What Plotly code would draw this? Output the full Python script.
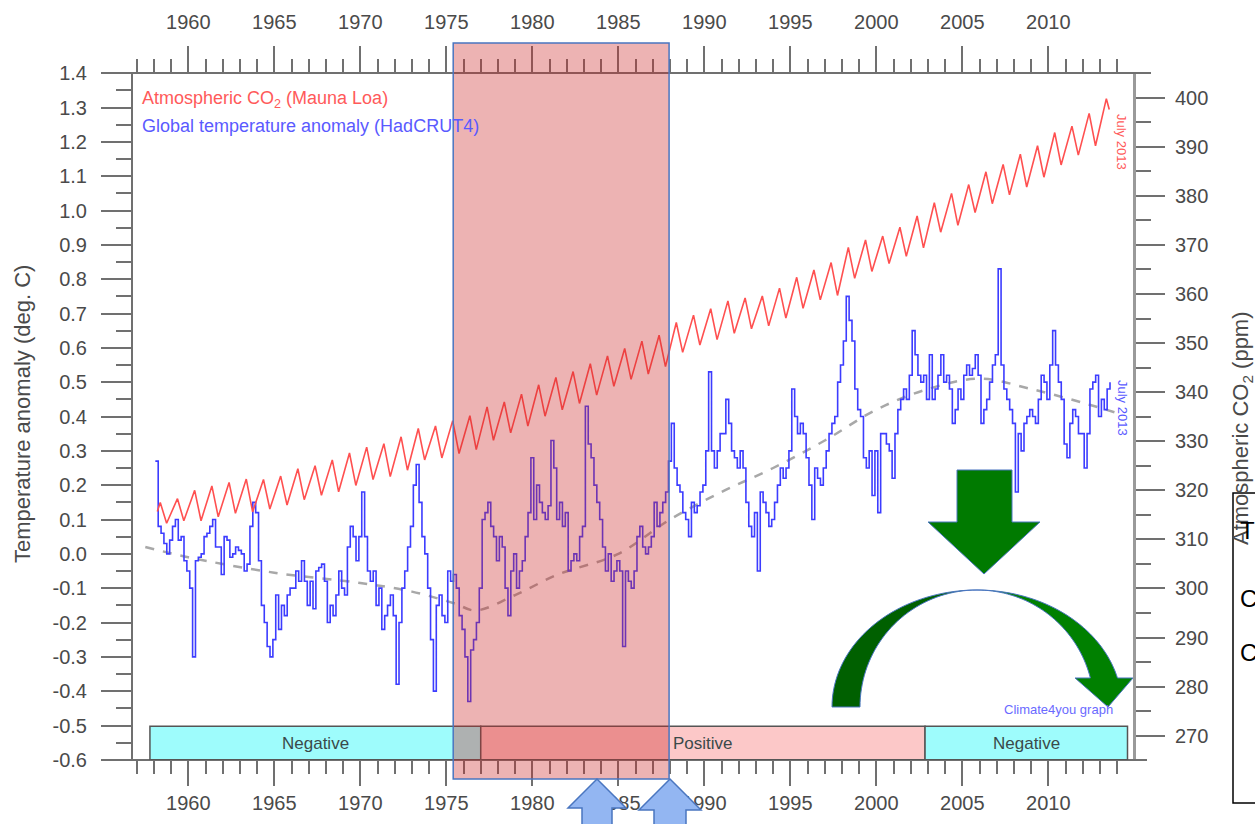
import math
import plotly.graph_objects as go

# ---------------- data ----------------
x_tick_years = [1960, 1965, 1970, 1975, 1980, 1985, 1990, 1995, 2000, 2005, 2010]
left_tick_vals = [-0.6, -0.5, -0.4, -0.3, -0.2, -0.1, 0.0, 0.1, 0.2, 0.3, 0.4,
                  0.5, 0.6, 0.7, 0.8, 0.9, 1.0, 1.1, 1.2, 1.3, 1.4]
left_tick_text = ["-0.6", "-0.5", "-0.4", "-0.3", "-0.2", "-0.1", "0.0", "0.1", "0.2",
                  "0.3", "0.4", "0.5", "0.6", "0.7", "0.8", "0.9", "1.0", "1.1", "1.2",
                  "1.3", "1.4"]
right_tick_vals = [270, 280, 290, 300, 310, 320, 330, 340, 350, 360, 370, 380, 390, 400]

# Mauna Loa CO2: seasonal maxima (May) and minima (Sep/Oct) per year
co2_start_year = 1958.2
co2_start_value = 315.7
co2_first_year = 1958
co2_peak = [317.5, 318.3, 320.0, 320.9, 321.6, 322.3, 322.2, 322.9, 324.4, 325.0,
            326.2, 327.6, 328.8, 329.5, 330.9, 332.6, 333.1, 334.2, 335.2, 337.0,
            338.0, 339.6, 341.5, 343.0, 344.2, 345.8, 347.4, 348.9, 350.4, 351.6,
            354.2, 355.7, 357.0, 358.6, 359.2, 359.6, 361.2, 363.4, 364.9, 366.4,
            369.5, 371.0, 371.8, 373.6, 375.9, 378.6, 380.5, 382.3, 384.9, 386.4,
            388.5, 390.2, 392.9, 394.2, 396.8, 399.8]
co2_trough = [313.3, 313.8, 313.8, 314.6, 315.3, 315.6, 316.2, 317.0, 318.1, 319.0,
              319.7, 321.0, 322.2, 322.8, 324.1, 326.2, 326.6, 327.5, 328.3, 330.2,
              331.7, 333.1, 335.1, 336.4, 337.7, 339.4, 341.2, 342.6, 343.7, 345.2,
              348.1, 349.6, 350.7, 352.0, 352.9, 353.5, 355.1, 357.1, 358.8, 359.7,
              363.2, 364.6, 366.2, 367.7, 369.4, 372.6, 374.0, 376.6, 378.4, 380.2,
              381.8, 383.8, 386.3, 388.3, 390.2]
co2_end_year = 2013.54
co2_end_value = 397.6

# HadCRUT4 global temperature anomaly, bi-monthly values
temp_start_year = 1958.0
temp_per_year = 6
temp = [
    0.27, 0.08, 0.06, 0.03, 0.00, 0.04,        # 1958
    0.08, 0.10, 0.04, 0.05, -0.02, -0.05,      # 1959
    -0.10, -0.30, -0.02, -0.01, 0.00, 0.05,    # 1960
    0.06, 0.08, 0.10, 0.02, 0.02, -0.06,       # 1961
    0.05, 0.04, -0.01, 0.00, 0.02, 0.01,       # 1962
    0.00, -0.05, -0.03, 0.08, 0.15, 0.12,      # 1963
    -0.02, -0.15, -0.20, -0.27, -0.30, -0.25,  # 1964
    -0.12, -0.22, -0.15, -0.18, -0.12, -0.10,  # 1965
    -0.10, -0.05, -0.08, -0.02, -0.08, -0.15,  # 1966
    -0.08, -0.16, -0.05, -0.04, -0.03, -0.08,  # 1967
    -0.20, -0.15, -0.18, -0.12, -0.05, -0.10,  # 1968
    -0.12, 0.02, 0.08, 0.05, -0.02, 0.05,      # 1969
    0.18, 0.05, -0.05, -0.08, -0.05, -0.15,    # 1970
    -0.10, -0.22, -0.18, -0.15, -0.12, -0.18,  # 1971
    -0.38, -0.20, -0.10, -0.05, 0.02, 0.08,    # 1972
    0.20, 0.26, 0.15, 0.05, 0.00, -0.10,       # 1973
    -0.25, -0.40, -0.15, -0.12, -0.18, -0.20,  # 1974
    -0.05, -0.08, -0.06, -0.10, -0.18, -0.22,  # 1975
    -0.30, -0.43, -0.28, -0.25, -0.20, -0.10,  # 1976
    0.10, 0.12, 0.15, 0.08, 0.05, -0.02,       # 1977
    0.05, 0.02, -0.10, -0.18, -0.05, 0.00,     # 1978
    -0.10, -0.05, -0.02, 0.05, 0.12, 0.28,     # 1979
    0.10, 0.20, 0.15, 0.12, 0.10, 0.14,        # 1980
    0.33, 0.25, 0.10, 0.15, 0.08, 0.12,        # 1981
    -0.05, -0.02, 0.00, -0.02, 0.05, 0.08,     # 1982
    0.43, 0.32, 0.28, 0.20, 0.15, 0.10,        # 1983
    0.02, -0.05, 0.00, -0.08, -0.05, -0.02,    # 1984
    -0.05, -0.27, -0.05, -0.08, -0.10, -0.05,  # 1985
    0.05, 0.08, 0.02, 0.00, 0.02, 0.05,        # 1986
    0.15, 0.08, 0.12, 0.15, 0.18, 0.27,        # 1987
    0.38, 0.25, 0.20, 0.18, 0.12, 0.10,        # 1988
    0.05, 0.15, 0.12, 0.14, 0.18, 0.20,        # 1989
    0.30, 0.53, 0.30, 0.25, 0.30, 0.35,        # 1990
    0.35, 0.45, 0.38, 0.30, 0.28, 0.25,        # 1991
    0.30, 0.25, 0.15, 0.08, 0.05, 0.12,        # 1992
    -0.05, 0.18, 0.15, 0.12, 0.08, 0.10,       # 1993
    0.15, 0.20, 0.25, 0.22, 0.25, 0.30,        # 1994
    0.48, 0.40, 0.35, 0.38, 0.35, 0.28,        # 1995
    0.20, 0.10, 0.25, 0.22, 0.20, 0.25,        # 1996
    0.30, 0.35, 0.38, 0.40, 0.50, 0.55,        # 1997
    0.62, 0.75, 0.68, 0.62, 0.48, 0.42,        # 1998
    0.40, 0.28, 0.25, 0.30, 0.17, 0.30,        # 1999
    0.12, 0.35, 0.35, 0.32, 0.30, 0.22,        # 2000
    0.35, 0.42, 0.45, 0.48, 0.45, 0.52,        # 2001
    0.65, 0.58, 0.52, 0.50, 0.52, 0.45,        # 2002
    0.58, 0.45, 0.48, 0.52, 0.58, 0.50,        # 2003
    0.52, 0.48, 0.38, 0.42, 0.48, 0.45,        # 2004
    0.52, 0.55, 0.52, 0.54, 0.58, 0.52,        # 2005
    0.38, 0.42, 0.45, 0.50, 0.55, 0.58,        # 2006
    0.83, 0.55, 0.48, 0.45, 0.42, 0.38,        # 2007
    0.18, 0.35, 0.30, 0.38, 0.40, 0.42,        # 2008
    0.40, 0.38, 0.45, 0.52, 0.50, 0.45,        # 2009
    0.55, 0.65, 0.55, 0.50, 0.45, 0.32,        # 2010
    0.28, 0.38, 0.42, 0.40, 0.35, 0.35,        # 2011
    0.25, 0.35, 0.48, 0.50, 0.52, 0.40,        # 2012
    0.45, 0.42, 0.48, 0.50,                    # 2013
]

trend_years = [1957.5, 1960, 1965, 1970, 1973, 1975.5, 1976.7, 1979, 1981.5, 1985,
               1988, 1991, 1994, 1997, 2000, 2003, 2006, 2009, 2012, 2014]
trend_vals = [0.02, -0.01, -0.055, -0.085, -0.11, -0.145, -0.165, -0.12, -0.06, 0.0,
              0.10, 0.18, 0.25, 0.33, 0.42, 0.48, 0.51, 0.48, 0.44, 0.41]

band_starts = [1957.77, 1977.0, 2002.83]
band_ends = [1977.0, 2002.83, 2014.6]
band_labels = ["Negative", "Positive", "Negative"]
band_colors = ["#9efcfc", "#fcc8c8", "#9efcfc"]

highlight_years = [1975.4, 1987.95]

# ---------------- layout geometry ----------------
W, H = 1255, 824
PL, PR, PT, PB = 133, 1133, 73, 760   # plot box in page pixels
ML, MT = PL, PT
MR, MB = W - PR, H - PB
PW, PH = PR - PL, PB - PT
X0, X1 = 1956.785, 2014.92
Y0, Y1 = -0.6, 1.4
R0, R1 = 265.05, 405.03


def px(x):
    return (x - PL) / PW


def py(y):
    return (PB - y) / PH


def path(points):
    return "M " + " L ".join(f"{px(a):.5f},{py(b):.5f}" for a, b in points) + " Z"


FONT = "Arial, Liberation Sans, sans-serif"
AX = "#707070"
TXT = "#4a4a4a"

# ---------------- traces ----------------
co2_x = [co2_start_year]
co2_y = [co2_start_value]
for i, pk in enumerate(co2_peak):
    co2_x.append(co2_first_year + i + 0.37)
    co2_y.append(pk)
    if i < len(co2_trough):
        co2_x.append(co2_first_year + i + 0.74)
        co2_y.append(co2_trough[i])
co2_x.append(co2_end_year)
co2_y.append(co2_end_value)

temp_x = [temp_start_year + (i + 0.5) / temp_per_year for i in range(len(temp))]

fig = go.Figure()
fig.add_trace(go.Scatter(x=trend_years, y=trend_vals, mode="lines",
                         line=dict(color="#a8a8a8", width=2.5, dash="dash"),
                         line_shape="spline", hoverinfo="skip", showlegend=False))
fig.add_trace(go.Scatter(x=temp_x, y=temp, mode="lines", line_shape="hv",
                         line=dict(color="#3c3cff", width=1.6), showlegend=False))
fig.add_trace(go.Scatter(x=co2_x, y=co2_y, mode="lines", yaxis="y2",
                         line=dict(color="#ff5050", width=1.6), showlegend=False))
fig.add_trace(go.Scatter(x=[X0, X1], y=[0.0, 0.0], xaxis="x2", mode="lines",
                         line=dict(width=0), opacity=0,
                         showlegend=False, hoverinfo="skip"))

tickfont = dict(family=FONT, size=20, color=TXT)
xcommon = dict(range=[X0, X1], tickmode="array", tickvals=x_tick_years,
               ticktext=[str(v) for v in x_tick_years], ticks="outside",
               tickwidth=2, tickcolor=AX, showgrid=False, zeroline=False,
               showline=False, tickfont=tickfont, automargin=False)

fig.update_layout(
    width=W, height=H,
    margin=dict(l=ML, r=MR, t=MT, b=MB, pad=0, autoexpand=False),
    paper_bgcolor="white", plot_bgcolor="white",
    font=dict(family=FONT, color=TXT),
    xaxis=dict(**xcommon, ticklen=25, ticklabelstandoff=0,
               minor=dict(dtick=1, tick0=1960, ticklen=13, tickwidth=2,
                          tickcolor=AX, ticks="outside")),
    xaxis2=dict(**xcommon, ticklen=26, overlaying="x", side="top", anchor="y",
                ticklabelstandoff=9,
                minor=dict(dtick=1, tick0=1960, ticklen=13, tickwidth=2,
                           tickcolor=AX, ticks="outside")),
    yaxis=dict(range=[Y0 - 0.0005, Y1 + 0.0005], tickmode="array",
               tickvals=left_tick_vals, ticktext=left_tick_text,
               ticks="outside", ticklen=30, tickwidth=2, tickcolor=AX,
               minor=dict(dtick=0.05, tick0=0, ticklen=15, tickwidth=2,
                          tickcolor=AX, ticks="outside"),
               showline=True, linecolor=AX, linewidth=2,
               showgrid=False, zeroline=False, tickfont=tickfont,
               ticklabelstandoff=10, automargin=False),
    yaxis2=dict(range=[R0, R1], overlaying="y", side="right", anchor="x",
                tickmode="array", tickvals=right_tick_vals,
                ticks="outside", ticklen=29, tickwidth=2, tickcolor=AX,
                minor=dict(dtick=5, tick0=270, ticklen=15, tickwidth=2,
                           tickcolor=AX, ticks="outside"),
                showline=True, linecolor="#9a9a9a", linewidth=3,
                showgrid=False, zeroline=False, tickfont=tickfont,
                ticklabelstandoff=6, automargin=False),
)

shapes = []
# horizontal axis lines extending beyond the frame
for yy in (PT, PB):
    shapes.append(dict(type="line", xref="paper", yref="paper",
                       x0=px(103), x1=px(1147), y0=py(yy), y1=py(yy),
                       line=dict(color=AX, width=2), layer="above"))
# PDO bands
for s, e, c in zip(band_starts, band_ends, band_colors):
    shapes.append(dict(type="rect", xref="x", yref="y", x0=s, x1=e,
                       y0=Y0, y1=-0.502, fillcolor=c,
                       line=dict(color="#555555", width=1.5), layer="above"))
# highlighted period
shapes.append(dict(type="rect", xref="x", yref="paper",
                   x0=highlight_years[0], x1=highlight_years[1],
                   y0=py(779), y1=py(43),
                   fillcolor="rgba(204,38,38,0.35)",
                   line=dict(color="#4a76c0", width=1.5), layer="above"))

# blue up arrows
for tip_x, hw, sw, base in ((597, 29, 15, 808), (670, 31, 16, 810)):
    pts = [(tip_x, 779), (tip_x + hw, base), (tip_x + sw, base), (tip_x + sw, 840),
           (tip_x - sw, 840), (tip_x - sw, base), (tip_x - hw, base)]
    shapes.append(dict(type="path", xref="paper", yref="paper", path=path(pts),
                       fillcolor="#93b6f2", line=dict(color="#4a76c0", width=1.5),
                       layer="above"))

# green down arrow
down = [(957, 470), (1012, 470), (1012, 522), (1040, 522), (984, 574),
        (928, 522), (957, 522)]
shapes.append(dict(type="path", xref="paper", yref="paper", path=path(down),
                   fillcolor="#007a00", line=dict(color="#4a76c0", width=1),
                   layer="above"))

# curved green arrow
cx, cy = 977, 707
rxo, ryo = 145, 117
rxi, ryi = 117, 117
n = 40
left_outer = [(cx - rxo * math.cos(math.pi / 2 * k / n), cy - ryo * math.sin(math.pi / 2 * k / n)) for k in range(n + 1)]
left_inner = [(cx - rxi * math.cos(math.pi / 2 * k / n), cy - ryi * math.sin(math.pi / 2 * k / n)) for k in range(n, -1, -1)]
shapes.append(dict(type="path", xref="paper", yref="paper",
                   path=path(left_outer + left_inner),
                   fillcolor="#006000", line=dict(color="#4a76c0", width=1),
                   layer="above"))
yb = 678
amax_o = math.asin((cy - yb) / ryo)
amax_i = math.asin((cy - yb) / ryi)
right_outer = [(cx + rxo * math.cos(math.pi / 2 - (math.pi / 2 - amax_o) * k / n),
                cy - ryo * math.sin(math.pi / 2 - (math.pi / 2 - amax_o) * k / n)) for k in range(n + 1)]
right_inner = [(cx + rxi * math.cos(math.pi / 2 - (math.pi / 2 - amax_i) * k / n),
                cy - ryi * math.sin(math.pi / 2 - (math.pi / 2 - amax_i) * k / n)) for k in range(n, -1, -1)]
head = [(1133, yb), (1108, 707), (1075, yb)]
shapes.append(dict(type="path", xref="paper", yref="paper",
                   path=path(right_outer + head + right_inner),
                   fillcolor="#008000", line=dict(color="#4a76c0", width=1),
                   layer="above"))

# right-side text box (cut by the page edge)
shapes.append(dict(type="rect", xref="paper", yref="paper",
                   x0=px(1233), x1=px(1275), y0=py(803), y1=py(493),
                   fillcolor="white", line=dict(color="black", width=1.5),
                   layer="above"))
fig.update_layout(shapes=shapes)

ann = []


def note(text, x, y, size, color, xanchor="left", angle=0):
    ann.append(dict(text=text, x=px(x), y=py(y), xref="paper", yref="paper",
                    showarrow=False, xanchor=xanchor, yanchor="middle",
                    textangle=angle, font=dict(family=FONT, size=size, color=color)))


note("Atmospheric CO<sub>2</sub> (Mauna Loa)", 140, 100, 18, "#ff5a5a")
note("Global temperature anomaly (HadCRUT4)", 140, 126, 18, "#5a5aff")
note("July 2013", 1122, 142, 13, "#ff5a5a", "center", 90)
note("July 2013", 1123, 408, 13, "#5a5aff", "center", 90)
note("Climate4you graph", 1058, 709, 13, "#6a6aff", "center")
note("Temperature anomaly (deg. C)", 22, 414, 22, TXT, "center", -90)
note("Atmospheric CO<sub>2</sub> (ppm)", 1242, 428, 22, TXT, "center", -90)
note("T", 1238, 530, 24, "black")
note("C", 1238, 598, 24, "black")
note("C", 1238, 652, 24, "black")
for s, e, lab in zip(band_starts, band_ends, band_labels):
    ann.append(dict(text=lab, x=(s + e) / 2, y=-0.551, xref="x", yref="y",
                    showarrow=False, font=dict(family=FONT, size=17, color="#3a4a4a")))
fig.update_layout(annotations=ann)

fig.write_html(
    "out.html",
    config={"displayModeBar": False},
    post_script="document.body.style.margin='0px';"
                "document.documentElement.style.overflow='hidden';",
)
